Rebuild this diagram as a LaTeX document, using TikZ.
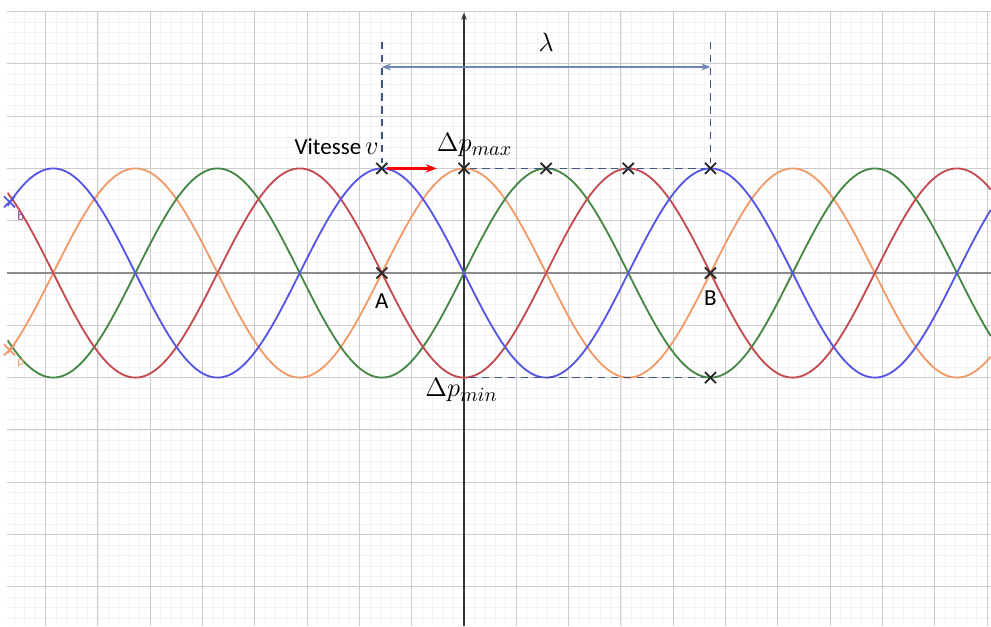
\documentclass[tikz,border=0pt]{standalone}
\usepackage{fontspec}
\setmainfont{Carlito}
\usepackage{amsmath}
\usepackage{xcolor}
\usetikzlibrary{shapes.misc, arrows.meta, positioning, calc}

\definecolor{waveblue}{RGB}{85,85,230}
\definecolor{waveorange}{RGB}{240,155,105}
\definecolor{wavegreen}{RGB}{70,135,70}
\definecolor{wavered}{RGB}{195,75,80}
\definecolor{dimblue}{RGB}{60,85,130}
\definecolor{lamblue}{RGB}{110,135,180}

\begin{document}
\begin{tikzpicture}[
    x=1cm, y=1cm,
    minorgrid/.style = {draw=black!5, line width=0.4pt},
    majorgrid/.style = {draw=black!20, line width=0.5pt},
    wave/.style      = {line width=1pt, samples=300, smooth},
    crossmark/.style = {draw=black!85, cross out, line width=1pt,
                        minimum size=5pt, inner sep=0pt},
    dim/.style       = {dimblue, line width=0.9pt, dash pattern=on 4pt off 3pt},
    lbl/.style       = {font=\fontsize{12.5}{15}\selectfont, inner sep=1pt},
    mlbl/.style      = {font=\fontsize{15}{17}\selectfont, inner sep=1pt},
]

\useasboundingbox (-8.872,-6.75) rectangle (10.076,5.22);

%% ── Grid and axes ───────────────────────────────────────────────────────────
\fill[white] (-8.872,-6.75) rectangle (10.076,5.22);
\draw[minorgrid, step=0.2] (-8.73,-6.75) grid (10.076,5.0);
\draw[majorgrid, step=1]   (-8.73,-6.75) grid (10.076,5.0);
\draw[black!45, line width=1.3pt] (-8.73,0) -- (10.076,0);
\draw[black!80, line width=0.6pt, -{Stealth[length=4pt]}] (0,-6.75) -- (0,4.98);

%% ── Waves ───────────────────────────────────────────────────────────────────
\begin{scope}
\clip (-8.73,-6.75) rectangle (10.076,5.0);
\draw[wave, waveorange] plot[domain=-8.73:10.076] (\x, {2*cos(\x r)});
\draw[wave, wavegreen]  plot[domain=-8.73:10.076] (\x, {2*sin(\x r)});
\draw[wave, wavered]    plot[domain=-8.73:10.076] (\x, {-2*cos(\x r)});
\draw[wave, waveblue]   plot[domain=-8.73:10.076] (\x, {-2*sin(\x r)});
\end{scope}

%% ── Marked points ───────────────────────────────────────────────────────────
\node[crossmark] (peakA) at (-1.5708,2) {};
\node[crossmark] (peakO) at (0,2)       {};
\node[crossmark] (peakG) at (1.5708,2)  {};
\node[crossmark] (peakR) at (3.1416,2)  {};
\node[crossmark] (peakB) at (4.7124,2)  {};
\node[crossmark] (ptA)   at (-1.5708,0) {};
\node[crossmark] (ptB)   at (4.7124,0)  {};
\node[crossmark] (minB)  at (4.7124,-2) {};
\node[crossmark, draw=waveblue]   (edgeb) at (-8.69,1.36)  {};
\node[crossmark, draw=waveorange] (edgep) at (-8.69,-1.47) {};

\coordinate (topA) at (-1.5708,4.42);
\coordinate (topB) at (4.7124,4.42);
\coordinate (lamA) at (-1.5708,3.94);
\coordinate (lamB) at (4.7124,3.94);
\coordinate (vtip) at (-0.52,2);
\coordinate (minO) at (0.1,-2);

%% ── Labels ──────────────────────────────────────────────────────────────────
\node[lbl, anchor=south east] (vlab) at ($(peakA)+(-0.02,0.22)$) {Vitesse\,{\fontsize{15}{17}\selectfont$v$}};
\node[mlbl, anchor=south west] (pmax) at ($(peakO)+(-0.56,0.18)$) {$\Delta p_{max}$};
\node[mlbl, anchor=north west] (pmin) at ($(minO)+(-0.88,0.02)$)  {$\Delta p_{min}$};
\node[lbl, below=0.25cm of ptA] (labA) {A};
\node[lbl, below=0.2cm of ptB]  (labB) {B};
\node[mlbl] (lam) at (1.57,4.42) {$\lambda$};
\node[font=\scriptsize, text=waveblue!70!red, below right=-0.05cm and -0.08cm of edgeb] (labb) {b};
\node[font=\scriptsize, text=waveorange, below right=-0.05cm and -0.08cm of edgep] (labp) {p};

%% ── Dimension lines ─────────────────────────────────────────────────────────
\draw[dim] (topA) -- (peakA);
\draw[dim] (topB) -- (peakB);
\draw[dim] (peakO) -- (peakB);
\draw[dim] (minO) -- (minB);
\draw[lamblue, line width=0.8pt, {Stealth[length=5pt]}-{Stealth[length=5pt]}] (lamA) -- (lamB);

%% ── Velocity arrow ──────────────────────────────────────────────────────────
\draw[red, line width=1.6pt, -{Stealth[length=6pt]}] (peakA) -- (vtip);

\end{tikzpicture}
\end{document}
